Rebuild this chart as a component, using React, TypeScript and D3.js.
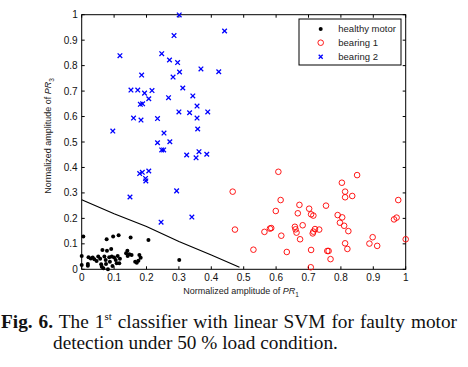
import React from 'react'
import * as d3 from 'd3'

// healthy motor (black dots)
const healthy: [number, number][] = [
  [0.005, 0.129], [0.0, 0.052], [0.0, 0.017], [0.019, 0.021], [0.019, 0.014],
  [0.021, 0.047], [0.028, 0.042], [0.034, 0.046], [0.039, 0.039], [0.046, 0.033],
  [0.051, 0.05], [0.057, 0.041], [0.06, 0.02], [0.062, 0.01], [0.064, 0.076],
  [0.067, 0.004], [0.07, 0.05], [0.074, 0.037], [0.075, 0.021], [0.077, 0.118],
  [0.078, 0.073], [0.081, 0.0], [0.085, 0.047], [0.087, 0.03], [0.091, 0.08],
  [0.093, 0.05], [0.095, 0.013], [0.097, 0.129], [0.1, 0.046], [0.105, 0.037],
  [0.108, 0.024], [0.111, 0.052], [0.114, 0.134], [0.116, 0.024], [0.118, 0.041],
  [0.137, 0.063], [0.141, 0.073], [0.142, 0.052], [0.147, 0.059], [0.151, 0.125],
  [0.154, 0.056], [0.165, 0.03], [0.17, 0.026], [0.175, 0.034], [0.178, 0.056],
  [0.182, 0.045], [0.206, 0.115], [0.301, 0.037],
]

// bearing 1 (red circles)
const bearing1: [number, number][] = [
  [0.466, 0.305], [0.473, 0.156], [0.53, 0.077], [0.564, 0.147], [0.581, 0.16],
  [0.585, 0.162], [0.599, 0.229], [0.607, 0.383], [0.614, 0.272], [0.616, 0.132],
  [0.633, 0.068], [0.658, 0.167], [0.66, 0.157], [0.663, 0.144], [0.667, 0.22],
  [0.672, 0.253], [0.674, 0.118], [0.682, 0.173], [0.702, 0.238], [0.708, 0.216],
  [0.715, 0.211], [0.713, 0.141], [0.715, 0.148], [0.72, 0.158], [0.708, 0.076],
  [0.707, 0.008], [0.733, 0.156], [0.754, 0.25], [0.758, 0.072], [0.762, 0.072],
  [0.768, 0.04], [0.79, 0.213], [0.804, 0.204], [0.797, 0.183], [0.81, 0.171],
  [0.823, 0.15], [0.813, 0.102], [0.82, 0.08], [0.803, 0.34], [0.813, 0.305],
  [0.813, 0.283], [0.835, 0.288], [0.85, 0.37], [0.888, 0.101], [0.898, 0.126],
  [0.912, 0.092], [0.964, 0.196], [0.972, 0.203], [0.977, 0.272], [1.0, 0.118],
]

// bearing 2 (blue crosses)
const bearing2: [number, number][] = [
  [0.301, 0.999], [0.441, 0.936], [0.285, 0.918], [0.118, 0.839], [0.247, 0.847],
  [0.271, 0.822], [0.296, 0.812], [0.368, 0.787], [0.423, 0.776], [0.302, 0.775],
  [0.185, 0.763], [0.282, 0.755], [0.312, 0.712], [0.152, 0.704], [0.173, 0.704],
  [0.217, 0.702], [0.194, 0.692], [0.207, 0.67], [0.268, 0.674], [0.343, 0.681],
  [0.181, 0.648], [0.188, 0.65], [0.356, 0.641], [0.3, 0.618], [0.333, 0.615],
  [0.389, 0.618], [0.16, 0.594], [0.183, 0.586], [0.234, 0.592], [0.356, 0.594],
  [0.358, 0.551], [0.096, 0.543], [0.254, 0.535], [0.234, 0.497], [0.272, 0.501],
  [0.247, 0.469], [0.253, 0.469], [0.324, 0.449], [0.353, 0.438], [0.362, 0.462],
  [0.386, 0.452], [0.179, 0.376], [0.187, 0.381], [0.207, 0.386], [0.197, 0.357],
  [0.198, 0.347], [0.293, 0.308], [0.149, 0.284], [0.245, 0.185], [0.34, 0.205],
]

// linear SVM boundary
const boundary: [number, number][] = [
  [0, 0.273], [0.1, 0.218], [0.2, 0.168], [0.3, 0.109], [0.4, 0.056], [0.487, 0.008],
]

const ticks = [0, 0.1, 0.2, 0.3, 0.4, 0.5, 0.6, 0.7, 0.8, 0.9, 1]
const tickLabels = ['0', '0.1', '0.2', '0.3', '0.4', '0.5', '0.6', '0.7', '0.8', '0.9', '1']
const legendNames = ['healthy motor', 'bearing 1', 'bearing 2']

const W = 468
const H = 367
const left = 81.7
const right = 405.7
const top = 14.7
const bottom = 269.3

const x = d3.scaleLinear().domain([0, 1]).range([left, right])
const y = d3.scaleLinear().domain([0, 1]).range([bottom, top])

const font = 'Liberation Sans, Arial, sans-serif'
const serif = 'Liberation Serif, Times New Roman, serif'

const Cross = ({ cx, cy, s = 2.3 }: { cx: number; cy: number; s?: number }) => (
  <path
    d={`M${cx - s},${cy - s}L${cx + s},${cy + s}M${cx - s},${cy + s}L${cx + s},${cy - s}`}
    stroke="#0000ff"
    strokeWidth={1.3}
  />
)

const App = () => {
  const line = d3
    .line<[number, number]>()
    .x((d) => x(d[0]))
    .y((d) => y(d[1]))

  return (
    <svg width={W} height={H} style={{ position: 'absolute', left: 0, top: 0, background: 'white' }}>
      {/* axes box */}
      <rect x={left} y={top} width={right - left} height={bottom - top} fill="none" stroke="black" strokeWidth={1} />

      {/* ticks */}
      {ticks.map((t, i) => (
        <g key={'t' + i} stroke="black" strokeWidth={1}>
          <line x1={x(t)} x2={x(t)} y1={bottom} y2={bottom - 3} />
          <line x1={x(t)} x2={x(t)} y1={top} y2={top + 3} />
          <line x1={left} x2={left + 3} y1={y(t)} y2={y(t)} />
          <line x1={right} x2={right - 3} y1={y(t)} y2={y(t)} />
        </g>
      ))}
      {ticks.map((t, i) => (
        <text key={'xl' + i} x={x(t)} y={bottom + 12} textAnchor="middle" fontFamily={font} fontSize={10} fill="#111">
          {tickLabels[i]}
        </text>
      ))}
      {ticks.map((t, i) => (
        <text key={'yl' + i} x={left - 4} y={y(t) + 3.5} textAnchor="end" fontFamily={font} fontSize={10} fill="#111">
          {tickLabels[i]}
        </text>
      ))}

      {/* axis titles */}
      <text x={241} y={294} textAnchor="middle" fontFamily={font} fontSize={9} fill="#222">
        Normalized amplitude of <tspan fontStyle="italic">PR</tspan>
        <tspan fontSize={6.5} dy={2.5}>1</tspan>
      </text>
      <text
        transform={`translate(51, 136) rotate(-90)`}
        textAnchor="middle"
        fontFamily={font}
        fontSize={9}
        fill="#222"
      >
        Normalized amplitude of <tspan fontStyle="italic">PR</tspan>
        <tspan fontSize={6.5} dy={2.5}>3</tspan>
      </text>

      {/* decision boundary */}
      <path d={line(boundary) || ''} fill="none" stroke="black" strokeWidth={1.2} />

      {/* data */}
      {healthy.map((d, i) => (
        <circle key={'h' + i} cx={x(d[0])} cy={y(d[1])} r={2} fill="black" />
      ))}
      {bearing1.map((d, i) => (
        <circle key={'b1' + i} cx={x(d[0])} cy={y(d[1])} r={2.8} fill="none" stroke="#ff0000" strokeWidth={0.9} />
      ))}
      {bearing2.map((d, i) => (
        <Cross key={'b2' + i} cx={x(d[0])} cy={y(d[1])} />
      ))}

      {/* legend */}
      <rect x={299} y={19} width={102} height={46} fill="white" stroke="black" strokeWidth={1} />
      <circle cx={320.7} cy={29} r={2} fill="black" />
      <circle cx={320.7} cy={42.7} r={2.8} fill="none" stroke="#ff0000" strokeWidth={0.9} />
      <Cross cx={320.7} cy={56.7} s={2} />
      {legendNames.map((n, i) => (
        <text key={'lg' + i} x={338.3} y={32.3 + i * 13.8} fontFamily={font} fontSize={9.5} fill="#222">
          {n}
        </text>
      ))}

      {/* caption */}
      <text x={1} y={328} fontFamily={serif} fontSize={19.3} fill="#111" wordSpacing={1.2}>
        <tspan fontWeight="bold">Fig. 6.</tspan> The 1<tspan fontSize={11} dy={-8}>st</tspan>
        <tspan dy={8}> classifier with linear SVM for faulty motor</tspan>
      </text>
      <text x={53} y={349} fontFamily={serif} fontSize={19.3} fill="#111">
        detection under 50 % load condition.
      </text>
    </svg>
  )
}

export default App
